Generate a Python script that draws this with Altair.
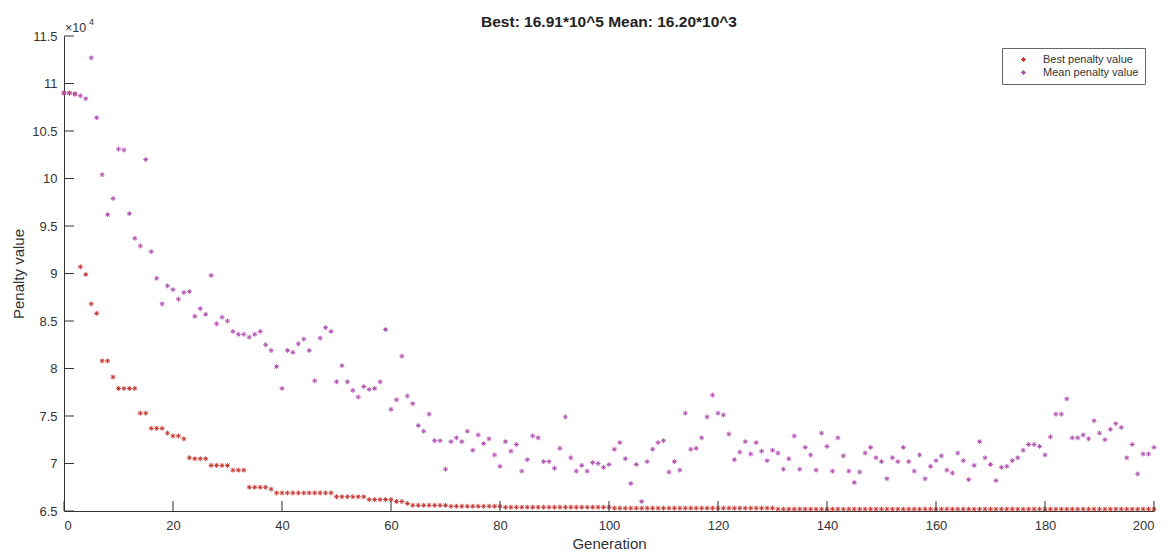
import altair as alt
import pandas as pd

# ---------------- data (values in units of 10^4) ----------------
generations = list(range(0, 201))

best_penalty = [
    10.90, 10.90, 10.89, 9.07, 8.99, 8.68, 8.58, 8.08, 8.08, 7.91,
    7.79, 7.79, 7.79, 7.79, 7.53, 7.53, 7.37, 7.37, 7.37, 7.32,
    7.29, 7.29, 7.26, 7.06, 7.05, 7.05, 7.05, 6.98, 6.98, 6.98,
    6.98, 6.93, 6.93, 6.93, 6.75, 6.75, 6.75, 6.75, 6.73, 6.69,
    6.69, 6.69, 6.69, 6.69, 6.69, 6.69, 6.69, 6.69, 6.69, 6.69,
    6.65, 6.65, 6.65, 6.65, 6.65, 6.65, 6.62, 6.62, 6.62, 6.62,
    6.62, 6.60, 6.60, 6.58, 6.56, 6.56, 6.56, 6.56, 6.56, 6.56,
    6.56, 6.55, 6.55, 6.55, 6.55, 6.55, 6.55, 6.55, 6.55, 6.55,
    6.55, 6.54, 6.54, 6.54, 6.54, 6.54, 6.54, 6.54, 6.54, 6.54,
    6.54, 6.54, 6.54, 6.54, 6.54, 6.54, 6.54, 6.54, 6.54, 6.54,
    6.54, 6.53, 6.53, 6.53, 6.53, 6.53, 6.53, 6.53, 6.53, 6.53,
    6.53, 6.53, 6.53, 6.53, 6.53, 6.53, 6.53, 6.53, 6.53, 6.53,
    6.53, 6.53, 6.53, 6.53, 6.53, 6.53, 6.53, 6.53, 6.53, 6.53,
    6.53, 6.52, 6.52, 6.52, 6.52, 6.52, 6.52, 6.52, 6.52, 6.52,
    6.52, 6.52, 6.52, 6.52, 6.52, 6.52, 6.52, 6.52, 6.52, 6.52,
    6.52, 6.52, 6.52, 6.52, 6.52, 6.52, 6.52, 6.52, 6.52, 6.52,
    6.52, 6.52, 6.52, 6.52, 6.52, 6.52, 6.52, 6.52, 6.52, 6.52,
    6.52, 6.52, 6.52, 6.52, 6.52, 6.52, 6.52, 6.52, 6.52, 6.52,
    6.52, 6.52, 6.52, 6.52, 6.52, 6.52, 6.52, 6.52, 6.52, 6.52,
    6.52, 6.52, 6.52, 6.52, 6.52, 6.52, 6.52, 6.52, 6.52, 6.52,
    6.52,
]

mean_penalty = [
    10.90, 10.90, 10.89, 10.87, 10.84, 11.27, 10.64, 10.04, 9.62, 9.79,
    10.31, 10.30, 9.63, 9.37, 9.29, 10.20, 9.23, 8.95, 8.68, 8.87,
    8.83, 8.73, 8.80, 8.81, 8.55, 8.63, 8.57, 8.98, 8.47, 8.54,
    8.50, 8.39, 8.36, 8.36, 8.33, 8.36, 8.39, 8.25, 8.19, 8.02,
    7.79, 8.19, 8.17, 8.26, 8.31, 8.19, 7.87, 8.32, 8.43, 8.39,
    7.86, 8.03, 7.86, 7.77, 7.70, 7.81, 7.78, 7.79, 7.86, 8.41,
    7.57, 7.67, 8.13, 7.71, 7.63, 7.40, 7.34, 7.52, 7.24, 7.24,
    6.94, 7.23, 7.27, 7.23, 7.34, 7.14, 7.30, 7.21, 7.26, 7.09,
    6.97, 7.23, 7.13, 7.20, 6.92, 7.04, 7.29, 7.27, 7.02, 7.02,
    6.95, 7.16, 7.49, 7.06, 6.92, 6.98, 6.92, 7.01, 7.00, 6.96,
    6.99, 7.15, 7.22, 7.05, 6.79, 6.99, 6.60, 7.02, 7.15, 7.22,
    7.24, 6.91, 7.02, 6.93, 7.53, 7.15, 7.16, 7.27, 7.49, 7.72,
    7.53, 7.51, 7.31, 7.04, 7.12, 7.23, 7.10, 7.22, 7.13, 7.03,
    7.14, 7.11, 6.94, 7.05, 7.29, 6.94, 7.17, 7.09, 6.93, 7.32,
    7.18, 6.92, 7.27, 7.08, 6.92, 6.80, 6.91, 7.11, 7.17, 7.06,
    7.02, 6.84, 7.06, 7.02, 7.17, 7.02, 6.92, 7.09, 6.84, 6.97,
    7.03, 7.08, 6.93, 6.90, 7.11, 7.03, 6.83, 6.98, 7.23, 7.06,
    6.99, 6.82, 6.96, 6.97, 7.03, 7.06, 7.14, 7.20, 7.20, 7.18,
    7.09, 7.28, 7.52, 7.52, 7.68, 7.27, 7.27, 7.30, 7.26, 7.45,
    7.32, 7.25, 7.36, 7.42, 7.38, 7.06, 7.20, 6.89, 7.10, 7.10,
    7.17,
]

series_names = ["Best penalty value", "Mean penalty value"]
series_colors = ["#c4302b", "#b04cb0"]
y_tick_values = [6.5, 7, 7.5, 8, 8.5, 9, 9.5, 10, 10.5, 11, 11.5]
x_tick_values = [0, 20, 40, 60, 80, 100, 120, 140, 160, 180, 200]
title_text = "Best: 16.91*10^5 Mean: 16.20*10^3"

# ---------------- tables ----------------
df = pd.concat([
    pd.DataFrame({"Generation": generations, "Value": best_penalty, "Series": series_names[0]}),
    pd.DataFrame({"Generation": generations, "Value": mean_penalty, "Series": series_names[1]}),
], ignore_index=True)
ytick_df = pd.DataFrame({"Value": y_tick_values})
xtick_df = pd.DataFrame({"Generation": x_tick_values})

W, H = 1090, 475
FONT = "Liberation Sans"
AX = "#333333"
ASTERISK = "M-1,0L1,0M0,-1L0,1M-0.7,-0.7L0.7,0.7M-0.7,0.7L0.7,-0.7"

x_scale = alt.Scale(domain=[0, 200], nice=False, zero=False)
y_scale = alt.Scale(domain=[6.5, 11.5], nice=False, zero=False)

x_axis = alt.Axis(values=x_tick_values, format="d", title="Generation",
                  ticks=False, grid=False, labelPadding=8, titlePadding=4,
                  domainColor=AX, labelColor=AX, titleColor=AX,
                  labelFontSize=13, titleFontSize=15, titleFontWeight="normal",
                  labelFont=FONT, titleFont=FONT)
y_axis = alt.Axis(values=y_tick_values, format="~g", title="Penalty value",
                  ticks=False, grid=False, labelPadding=7, titlePadding=5,
                  domainColor=AX, labelColor=AX, titleColor=AX,
                  labelFontSize=13, titleFontSize=15, titleFontWeight="normal",
                  labelFont=FONT, titleFont=FONT)

points = alt.Chart(df).mark_point(
    shape=ASTERISK, size=24, strokeWidth=1.0, filled=False, opacity=0.95
).encode(
    x=alt.X("Generation:Q", scale=x_scale, axis=x_axis),
    y=alt.Y("Value:Q", scale=y_scale, axis=y_axis),
    color=alt.Color("Series:N",
                    scale=alt.Scale(domain=series_names, range=series_colors),
                    legend=alt.Legend(title=None, orient="none", legendX=938, legendY=12,
                                      direction="vertical", strokeColor="#666666",
                                      fillColor="white", padding=6, rowPadding=1,
                                      symbolType=ASTERISK, symbolSize=24,
                                      symbolStrokeWidth=1.0, symbolOffset=10,
                                      labelOffset=14, labelFontSize=11, labelFont=FONT,
                                      labelColor=AX)),
)

yticks = alt.Chart(ytick_df).mark_rule(color=AX, strokeWidth=1).encode(
    y=alt.Y("Value:Q", scale=y_scale, axis=y_axis), x=alt.value(0), x2=alt.value(10))
xticks = alt.Chart(xtick_df).mark_rule(color=AX, strokeWidth=1).encode(
    x=alt.X("Generation:Q", scale=x_scale, axis=x_axis), y=alt.value(H), y2=alt.value(H - 10))

title = alt.Chart(pd.DataFrame({"t": [title_text]})).mark_text(
    font=FONT, fontSize=15.5, fontWeight="bold", color="#222222", align="center",
    baseline="middle").encode(text="t:N", x=alt.value(W / 2), y=alt.value(-14))

exp_base = alt.Chart(pd.DataFrame({"t": ["×10"]})).mark_text(
    font=FONT, fontSize=12.5, color=AX, align="left", baseline="middle"
).encode(text="t:N", x=alt.value(1), y=alt.value(-8))
exp_pow = alt.Chart(pd.DataFrame({"t": ["4"]})).mark_text(
    font=FONT, fontSize=9, color=AX, align="left", baseline="middle"
).encode(text="t:N", x=alt.value(25), y=alt.value(-14))

chart = alt.layer(points, yticks, xticks, title, exp_base, exp_pow).properties(
    width=W, height=H,
    autosize=alt.AutoSizeParams(type="none"),
    padding={"left": 64, "top": 36, "right": 17, "bottom": 46},
    background="white",
).configure_view(stroke=None)

chart.save("out.html", embed_options={"renderer": "svg", "actions": False})
